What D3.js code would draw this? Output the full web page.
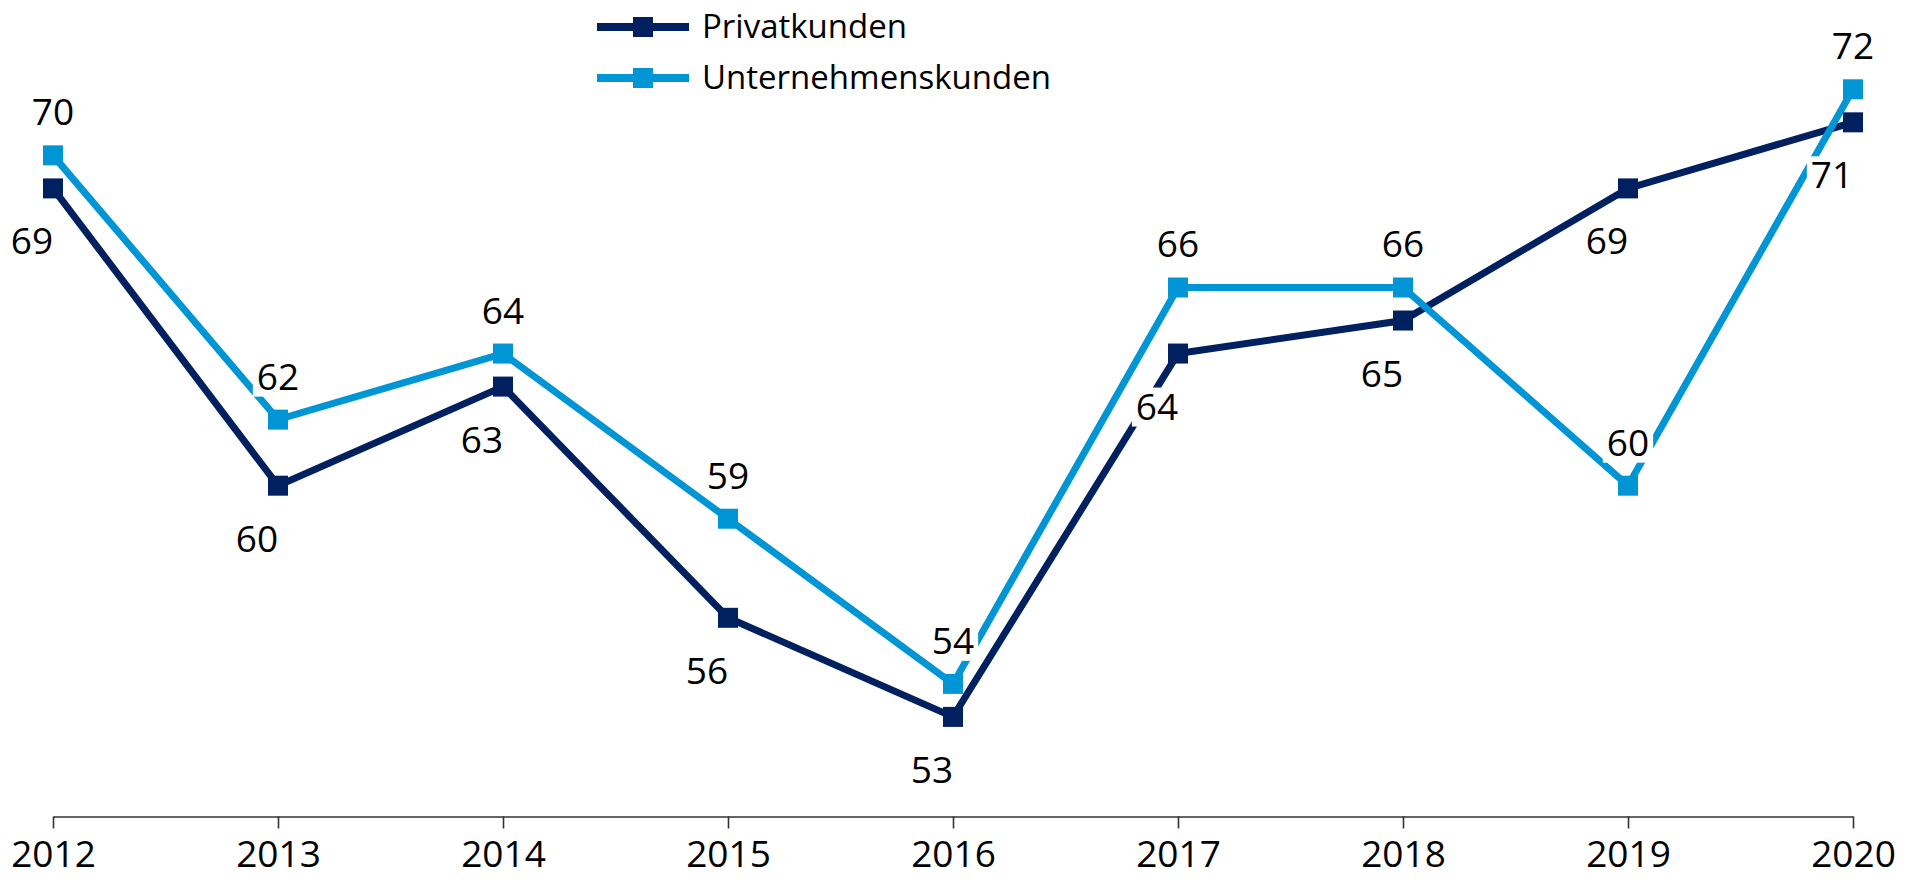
<!DOCTYPE html>
<html>
<head>
<meta charset="utf-8">
<script src="https://cdn.jsdelivr.net/npm/d3@7"></script>
<style>
  body { margin: 0; background: #fff; }
  svg { display: block; font-family: "Open Sans", sans-serif; }
</style>
</head>
<body>
<div id="chart"></div>
<script>
// chart data
const years = ["2012", "2013", "2014", "2015", "2016", "2017", "2018", "2019", "2020"];
const privatkunden = [69, 60, 63, 56, 53, 64, 65, 69, 71];
const unternehmenskunden = [70, 62, 64, 59, 54, 66, 66, 60, 72];
const seriesNames = ["Privatkunden", "Unternehmenskunden"];

const width = 1921;
const height = 888;
const colors = ["#00205f", "#0095d5"];

const svg = d3.select("#chart")
  .append("svg")
  .attr("width", width)
  .attr("height", height);

const xScale = d3.scalePoint().domain(years).range([53, 1853]);
const yScale = d3.scaleLinear().domain([50, 72]).range([816, 89.3]);

// x axis
const xAxis = d3.axisBottom(xScale).tickSize(12).tickSizeOuter(0).tickPadding(12);
const axisG = svg.append("g")
  .attr("transform", "translate(0,816.5)")
  .call(xAxis);
axisG.select(".domain").attr("stroke", "#333").attr("stroke-width", 1.6);
axisG.selectAll(".tick line").attr("stroke", "#333").attr("stroke-width", 1.6);
axisG.selectAll(".tick text")
  .attr("font-size", 37)
  .attr("font-family", "Open Sans")
  .attr("fill", "#000");

const series = [
  { name: seriesNames[0], values: privatkunden, color: colors[0], below: true },
  { name: seriesNames[1], values: unternehmenskunden, color: colors[1], below: false }
];

const line = d3.line()
  .x((d, i) => xScale(years[i]))
  .y(d => yScale(d));

// lines
series.forEach(s => {
  svg.append("path")
    .datum(s.values)
    .attr("fill", "none")
    .attr("stroke", s.color)
    .attr("stroke-width", 7)
    .attr("stroke-linejoin", "miter")
    .attr("d", line);
});

// value labels with white knock-out boxes
const labelG = svg.append("g");
series.forEach(s => {
  s.values.forEach((v, i) => {
    const cx = xScale(years[i]) + (s.below ? -21 : 0);
    const baseline = s.below ? yScale(v) + 66 : yScale(v) - 30;
    const g = labelG.append("g");
    const t = g.append("text")
      .attr("x", cx)
      .attr("y", baseline)
      .attr("text-anchor", "middle")
      .attr("font-size", 37)
      .attr("fill", "#000")
      .text(v);
    const bb = t.node().getBBox();
    g.insert("rect", "text")
      .attr("x", bb.x - 4)
      .attr("y", baseline - 32)
      .attr("width", bb.width + 8)
      .attr("height", 39)
      .attr("fill", "#fff");
  });
});

// markers
series.forEach(s => {
  svg.append("g")
    .selectAll("rect")
    .data(s.values)
    .join("rect")
    .attr("x", (d, i) => xScale(years[i]) - 10)
    .attr("y", d => yScale(d) - 10)
    .attr("width", 20)
    .attr("height", 20)
    .attr("fill", s.color);
});

// legend
const legend = svg.append("g");
series.forEach((s, i) => {
  const cy = 27 + i * 51;
  legend.append("line")
    .attr("x1", 597).attr("x2", 689)
    .attr("y1", cy).attr("y2", cy)
    .attr("stroke", s.color)
    .attr("stroke-width", 8);
  legend.append("rect")
    .attr("x", 633).attr("y", cy - 10)
    .attr("width", 20).attr("height", 20)
    .attr("fill", s.color);
  legend.append("text")
    .attr("x", 702)
    .attr("y", cy + 11)
    .attr("font-size", 33)
    .attr("fill", "#000")
    .text(s.name);
});
</script>
</body>
</html>
